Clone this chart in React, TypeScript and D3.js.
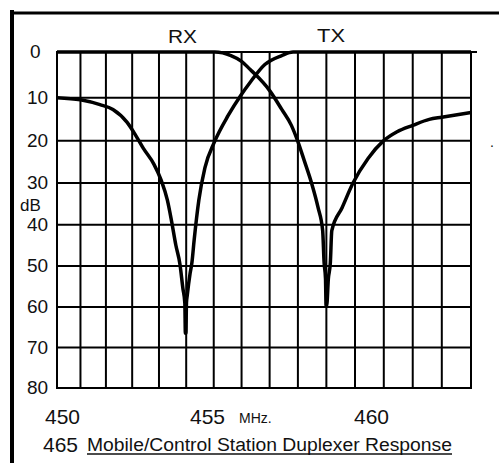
import React from "react";
import * as d3 from "d3";

const W = 499;
const H = 463;

// Axis values
const F_MIN = 450;
const F_MAX = 465;
const DB_MIN = 0;
const DB_MAX = 80;
const freqGrid = d3.range(450, 466, 1);
const dbTicks = [0, 10, 20, 30, 40, 50, 60, 70, 80];
const xTickLabels = ["450", "455", "460"];

// Curve notched at 455 MHz (RX), passing the TX side: [MHz, dB]
const rxNotchCurve: [number, number][] = [
  [450, 10], [451, 10.5], [451.77, 11.6], [452.27, 12.7], [452.81, 15.7],
  [453.12, 18.6], [453.42, 21.8], [453.81, 25.5], [454.08, 29.3], [454.31, 34.1],
  [454.46, 39.0], [454.62, 44.9], [454.77, 49.5], [454.88, 55.5], [454.95, 59],
  [454.97, 66.5], [454.99, 66.5], [455.01, 59], [455.04, 57.1], [455.14, 51.9],
  [455.21, 49.1], [455.29, 43.7], [455.46, 34.1], [455.68, 26.4], [456.03, 20.2],
  [456.52, 14.1], [456.97, 9.5], [457.31, 6.5], [457.83, 2.6], [458.43, 0.7],
  [458.83, 0], [465, 0],
];

// Curve notched at 460 MHz (TX), passing the RX side: [MHz, dB]
const txNotchCurve: [number, number][] = [
  [450, 0], [456.04, 0], [456.62, 0.7], [457, 1.9], [457.31, 3.7], [457.48, 4.7],
  [458, 8.4], [458.43, 12.7], [458.77, 16.4], [459, 20.2], [459.23, 24.8],
  [459.48, 30], [459.71, 35.9], [459.87, 41.4], [459.92, 49.1], [459.97, 53.1],
  [459.99, 59.8], [460.01, 59.8], [460.07, 53.1], [460.14, 49.1], [460.19, 41.4],
  [460.55, 35.9], [460.93, 30], [461.46, 24.1], [461.96, 20.2], [462.46, 17.9],
  [463, 16.4], [463.57, 15.0], [464, 14.5], [465, 13.4],
];

const PLOT = { left: 57, right: 471, top: 52, bottom: 388 };
const FONT = "'Liberation Sans', Arial, Helvetica, sans-serif";

export default function App() {
  const xs = d3
    .scalePow()
    .exponent(1.06)
    .domain([0, F_MAX - F_MIN])
    .range([PLOT.left, PLOT.right]);
  const x = (f: number) => xs(f - F_MIN);
  const y = d3
    .scalePow()
    .exponent(0.96)
    .domain([DB_MIN, DB_MAX])
    .range([PLOT.top, PLOT.bottom]);

  const line = d3
    .line<[number, number]>()
    .x((d) => x(d[0]))
    .y((d) => y(d[1]))
    .curve(d3.curveMonotoneX);

  return (
    <svg
      width={W}
      height={H}
      viewBox={`0 0 ${W} ${H}`}
      style={{ position: "absolute", left: 0, top: 0, background: "#fff" }}
      fontFamily={FONT}
    >
      <rect x={0} y={0} width={W} height={H} fill="#fff" />
      {/* outer frame */}
      <rect x={10} y={10} width={4} height={H - 10} fill="#000" />
      <rect x={10} y={11.5} width={W - 10} height={3} fill="#000" />

      {/* grid */}
      {freqGrid.map((f) => (
        <line
          key={"v" + f}
          x1={x(f)}
          x2={x(f)}
          y1={y(DB_MIN) + 1}
          y2={y(DB_MAX) - 1}
          stroke="#000"
          strokeWidth={2}
        />
      ))}
      {dbTicks.map((v) => (
        <line
          key={"h" + v}
          x1={x(F_MIN) - 1}
          x2={v === 0 ? x(F_MAX) + 6 : x(F_MAX) + 1}
          y1={y(v)}
          y2={y(v)}
          stroke="#000"
          strokeWidth={2}
        />
      ))}

      {/* response curves */}
      <path d={line(rxNotchCurve) || ""} fill="none" stroke="#000" strokeWidth={3.5} strokeLinejoin="round" />
      <path d={line(txNotchCurve) || ""} fill="none" stroke="#000" strokeWidth={3.5} strokeLinejoin="round" />

      {/* y labels */}
      {dbTicks.map((v) => (
        <text key={"yl" + v} x={v === 0 ? 30 : 27} y={y(v) + 6} fontSize={19} fill="#111">
          {v}
        </text>
      ))}
      <text x={20} y={211} fontSize={17} fill="#111">dB</text>

      {/* band labels */}
      <text x={168} y={43} fontSize={18} textLength={29} lengthAdjust="spacingAndGlyphs" fill="#111">RX</text>
      <text x={317} y={42} fontSize={18} textLength={28} lengthAdjust="spacingAndGlyphs" fill="#111">TX</text>

      {/* x labels */}
      <text x={45} y={424} fontSize={21} fill="#111">{xTickLabels[0]}</text>
      <text x={190} y={424} fontSize={21} fill="#111">{xTickLabels[1]}</text>
      <text x={239} y={423} fontSize={14} fill="#111">MHz.</text>
      <text x={354} y={424} fontSize={21} fill="#111">{xTickLabels[2]}</text>
      <text x={43} y={452} fontSize={21} fill="#111">465</text>

      {/* caption */}
      <text x={87} y={451} fontSize={18} textLength={365} lengthAdjust="spacingAndGlyphs" fill="#111">
        Mobile/Control Station Duplexer Response
      </text>
      <line x1={87} x2={452} y1={454} y2={454} stroke="#111" strokeWidth={1.5} />

      <text x={490} y={147} fontSize={14} fill="#111">.</text>
    </svg>
  );
}
